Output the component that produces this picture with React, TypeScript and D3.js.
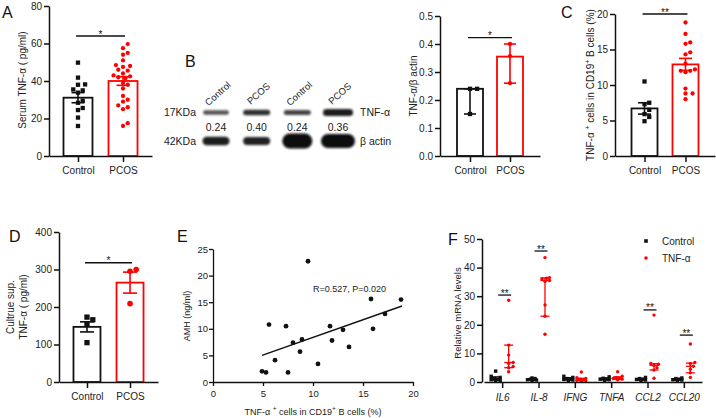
import React, { useEffect, useRef } from "react";
import * as d3 from "d3";

const FONT = "'Liberation Sans', Arial, Helvetica, sans-serif";
const RED = "#ff0000";
const BLACK = "#111111";

// ---------- Panel A ----------
const groupsAB = ["Control", "PCOS"];
const aControl = [49.8, 41.8, 38.2, 38.0, 35.5, 35, 33.8, 29.5, 28.4, 25.6, 24.5, 20.5, 16];
const aPCOS = [59.7, 57.5, 55, 54, 51, 48.5, 48, 47.5, 46, 45.5, 44, 43, 42.5, 42, 41.5, 39, 38, 36, 32, 30, 29, 27, 26, 25, 17.5, 16];
const aMean = [31.1, 40.0];
const aSem = [2.7, 2.3];
const aTicks = [0, 20, 40, 60, 80];

// ---------- Panel B (blot) ----------
const blotLanes = ["Control", "PCOS", "Control", "PCOS"];
const blotRatios = ["0.24", "0.40", "0.24", "0.36"];
const blotMarkers = ["17KDa", "42KDa"];
const blotProteins = ["TNF-α", "β actin"];

// ---------- Panel B (bar) ----------
const bControl = [0.24, 0.24, 0.15];
const bPCOS = [0.40, 0.357, 0.26];
const bMean = [0.24, 0.355];
const bLow = [0.15, 0.26];
const bHigh = [0.24, 0.40];
const bTicks = [0, 0.1, 0.2, 0.3, 0.4, 0.5];

// ---------- Panel C ----------
const cControl = [10.5, 7.5, 7.3, 6.5, 5.9, 5.5, 4.9];
const cPCOS = [18.8, 17.2, 16, 15.8, 14.6, 14.3, 13, 12.2, 12, 12, 11.8, 9.5, 8.8, 8.8, 8];
const cMean = [6.7, 12.9];
const cSem = [0.8, 0.85];
const cTicks = [0, 5, 10, 15, 20];

// ---------- Panel D ----------
const dControl = [173, 166, 154, 105];
const dPCOS = [300, 295.5, 209];
const dMean = [147, 265];
const dSem = [13.5, 28];
const dTicks = [0, 100, 200, 300, 400];

// ---------- Panel E ----------
const eX = [9.5, 15.8, 18.8, 5.6, 7.3, 11.7, 13.0, 16.0, 17.2, 8.0, 8.9, 11.9, 8.7, 13.6, 6.2, 10.5, 4.9, 5.3, 7.5];
const eY = [22.7, 15.6, 15.5, 10.8, 10.5, 10.5, 9.8, 10.0, 12.8, 7.4, 8.0, 7.8, 5.7, 6.6, 4.1, 3.4, 2.0, 1.8, 1.8];
const eSlope = 0.664;
const eIntercept = 1.745;
const eFitRange = [4.9, 18.9];
const eLabel = "R=0.527, P=0.020";
const eXTicks = [0, 5, 10, 15, 20];
const eYTicks = [0, 5, 10, 15, 20, 25];

// ---------- Panel F ----------
const fGenes = ["IL6", "IL-8", "IFNG", "TNFA", "CCL2", "CCL20"];
const fSeries = ["Control", "TNF-α"];
const fControl = [
  [3.8, 2.0, 1.6, 1.2, 1.0, 0.8, 0.6, 0.5],
  [1.4, 1.2, 1.0, 0.9, 0.8, 0.7, 0.6],
  [2.0, 1.6, 1.2, 1.0, 0.9, 0.7, 0.5],
  [1.8, 1.3, 1.1, 1.0, 0.8, 0.6],
  [1.6, 1.2, 1.0, 0.9, 0.7, 0.5],
  [1.4, 1.2, 1.0, 0.8, 0.7, 0.5],
];
const fTNF = [
  [28.6, 12.9, 9.4, 6.8, 6.5, 5.4, 5.0, 3.6],
  [43.5, 36.5, 36.3, 36, 35.5, 35.2, 26.9, 23, 16.7],
  [3.5, 1.5, 1.2, 1.0, 0.8, 0.6, 0.4, 0.3],
  [3.6, 2.0, 1.6, 1.4, 1.2, 1.0, 0.8],
  [23.4, 6.5, 6.2, 5.8, 5.0, 4.2, 1.3],
  [13.3, 6.8, 6.5, 5.5, 4.5, 3.2, 1.6],
];
// [q1, median, q3]
const fControlIQR = [
  [0.6, 1.1, 1.8], [0.7, 0.85, 1.1], [0.7, 1.0, 1.5], [0.7, 1.05, 1.3], [0.6, 0.9, 1.2], [0.6, 0.9, 1.1],
];
const fTNFIQR = [
  [5.0, 6.8, 12.9], [23, 35.5, 36.4], [0.5, 0.9, 1.3], [0.9, 1.3, 1.8], [4.2, 5.8, 6.4], [3.2, 5.5, 6.6],
];
const fSig: [string, number, string][] = [["IL6", 30.4, "**"], ["IL-8", 45.8, "**"], ["CCL2", 25.2, "**"], ["CCL20", 16.4, "**"]];
const fTicks = [0, 10, 20, 30, 40, 50];

// ---------- helpers ----------
function dodge(values: number[], y: (v: number) => number, r: number, step = r, maxOff = 40): number[] {
  const order = values.map((_, i) => i).sort((a, b) => values[a] - values[b]);
  const placed: { x: number; y: number }[] = [];
  const out = new Array(values.length).fill(0);
  for (const i of order) {
    const py = y(values[i]);
    const cands = [0];
    for (let k = 1; k * step <= maxOff; k++) cands.push(k * step, -k * step);
    let best = 0;
    let bestD = -1;
    let done = false;
    for (const c of cands) {
      const dmin = placed.length ? Math.min(...placed.map((p) => Math.hypot(p.x - c, p.y - py))) : 1e9;
      if (dmin >= 2 * r - 0.2) {
        best = c;
        done = true;
        break;
      }
      if (dmin > bestD) {
        bestD = dmin;
        best = c;
      }
    }
    void done;
    out[i] = best;
    placed.push({ x: best, y: py });
  }
  return out;
}

type AxisProps = {
  scale: any; orient: "left" | "bottom"; x?: number; y?: number; tickValues?: any[];
  fmt?: (d: any) => string; size?: number; pad?: number; fs?: number; italic?: boolean; sw?: number;
};
function Axis(p: AxisProps) {
  const ref = useRef<SVGGElement>(null);
  useEffect(() => {
    if (!ref.current) return;
    const ax: any = p.orient === "left" ? d3.axisLeft(p.scale) : d3.axisBottom(p.scale);
    ax.tickSizeOuter(0).tickSizeInner(p.size ?? 5).tickPadding(p.pad ?? 2);
    if (p.tickValues) ax.tickValues(p.tickValues);
    if (p.fmt) ax.tickFormat(p.fmt);
    const g = d3.select(ref.current);
    g.call(ax);
    g.attr("font-size", null).attr("font-family", null);
    g.select(".domain").attr("stroke", BLACK).attr("stroke-width", p.sw ?? 1.5);
    g.selectAll(".tick line").attr("stroke", BLACK).attr("stroke-width", p.sw ?? 1.5);
    g.selectAll(".tick text")
      .attr("fill", "#222")
      .attr("font-size", p.fs ?? 10)
      .attr("font-family", FONT)
      .attr("font-style", p.italic ? "italic" : null);
  });
  return <g ref={ref} transform={`translate(${p.x ?? 0},${p.y ?? 0})`} />;
}

function Marker({ shape, x, y, s, color }: { shape: string; x: number; y: number; s: number; color: string }) {
  if (shape === "square") return <rect x={x - s / 2} y={y - s / 2} width={s} height={s} fill={color} />;
  return <circle cx={x} cy={y} r={s / 2} fill={color} />;
}

type BarPanelProps = {
  xr: [number, number]; yr: [number, number]; yMax: number; ticks: number[]; fmt?: (d: any) => string;
  padding: number; pts: number[][]; means: number[]; lo: number[]; hi: number[];
  barW: number; capW: number; sigVal: number; sigText: string; ptS: number[];
  title: React.ReactNode; titleX: number; titleY: number; letter: string; lx: number; ly: number;
  titleLines?: string[];
};
function BarPanel(p: BarPanelProps) {
  const x = d3.scalePoint<string>().domain(groupsAB).range(p.xr).padding(p.padding);
  const y = d3.scaleLinear().domain([0, p.yMax]).range(p.yr);
  const colors = [BLACK, RED];
  const shapes = ["square", "circle"];
  const c0 = x(groupsAB[0])!;
  const c1 = x(groupsAB[1])!;
  const sy = y(p.sigVal);
  return (
    <g>
      <text x={p.lx} y={p.ly} fontSize={16} fontFamily={FONT} fill="#111">{p.letter}</text>
      {groupsAB.map((g, i) => {
        const cx = x(g)!;
        const top = y(p.means[i]);
        return (
          <rect key={"b" + g} x={cx - p.barW / 2} y={top} width={p.barW} height={y(0) - top}
            fill="white" stroke={colors[i]} strokeWidth={1.8} />
        );
      })}
      {groupsAB.map((g, i) => {
        const cx = x(g)!;
        const offs = dodge(p.pts[i], y, p.ptS[i] / 2 + 0.4, p.ptS[i] * 0.55);
        return p.pts[i].map((v, j) => (
          <Marker key={g + j} shape={shapes[i]} x={cx + offs[j]} y={y(v)} s={p.ptS[i]} color={colors[i]} />
        ));
      })}
      {groupsAB.map((g, i) => {
        const cx = x(g)!;
        const a = y(p.lo[i]);
        const b = y(p.hi[i]);
        return (
          <g key={"e" + g} stroke={colors[i]} strokeWidth={1.6}>
            <line x1={cx} x2={cx} y1={a} y2={b} />
            <line x1={cx - p.capW / 2} x2={cx + p.capW / 2} y1={a} y2={a} />
            <line x1={cx - p.capW / 2} x2={cx + p.capW / 2} y1={b} y2={b} />
          </g>
        );
      })}
      <Axis scale={y} orient="left" x={p.xr[0]} tickValues={p.ticks} fmt={p.fmt} size={5} pad={2} />
      <Axis scale={x} orient="bottom" y={p.yr[0]} size={6} pad={5} />
      <line x1={c0 - 2} x2={c1 + 2} y1={sy} y2={sy} stroke={BLACK} strokeWidth={1.3} />
      <text x={(c0 + c1) / 2} y={sy + 1.5} textAnchor="middle" fontSize={10} fontFamily={FONT} fill="#111">{p.sigText}</text>
      <text transform={`translate(${p.titleX},${p.titleY}) rotate(-90)`} textAnchor="middle" fontSize={10}
        fontFamily={FONT} fill="#222">
        {p.titleLines
          ? p.titleLines.map((t, k) => (
              <tspan key={k} x={0} dy={k === 0 ? 0 : 13}>{t}</tspan>
            ))
          : p.title}
      </text>
    </g>
  );
}

function Blot() {
  const lane = d3.scalePoint<number>().domain([0, 1, 2, 3]).range([216, 338]);
  const rowY = [112.5, 141];
  const tnfBands = [
    { w: 26, h: 4.5, c: "#555" }, { w: 27, h: 5.5, c: "#2e2e2e" }, { w: 27, h: 5, c: "#444" }, { w: 30, h: 7, c: "#1c1c1c" },
  ];
  const actinBands = [
    { w: 27, h: 8.5, c: "#1a1a1a" }, { w: 27, h: 8, c: "#242424" }, { w: 30, h: 15, c: "#0a0a0a" }, { w: 34, h: 14, c: "#0a0a0a" },
  ];
  const rows = [tnfBands, actinBands];
  return (
    <g fontFamily={FONT} fill="#222">
      <defs>
        <filter id="blotblur" x="-30%" y="-80%" width="160%" height="260%">
          <feGaussianBlur stdDeviation="1.2" />
        </filter>
      </defs>
      <text x={185} y={67} fontSize={16} fill="#111">B</text>
      {blotLanes.map((l, i) => (
        <text key={"l" + i} transform={`translate(${lane(i)! + 4},${96}) rotate(-42)`} textAnchor="middle"
          fontSize={9.5}>{l}</text>
      ))}
      {rows.map((row, r) => (
        <g key={"r" + r} filter="url(#blotblur)">
          {row.map((b, i) => (
            <rect key={i} x={lane(i)! - b.w / 2} y={rowY[r] - b.h / 2} width={b.w} height={b.h} rx={b.h / 2}
              ry={b.h / 2} fill={b.c} />
          ))}
        </g>
      ))}
      {blotRatios.map((t, i) => (
        <text key={"n" + i} x={lane(i)!} y={131} textAnchor="middle" fontSize={10.5}>{t}</text>
      ))}
      {blotMarkers.map((m, r) => (
        <text key={"m" + r} x={196} y={rowY[r] + 3.8} textAnchor="end" fontSize={10.5}>{m}</text>
      ))}
      {blotProteins.map((m, r) => (
        <text key={"p" + r} x={360} y={rowY[r] + 3.8} fontSize={10.5}>{m}</text>
      ))}
    </g>
  );
}

function PanelE() {
  const x = d3.scaleLinear().domain([0, 20]).range([213, 413]);
  const y = d3.scaleLinear().domain([0, 25]).range([382, 249]);
  const fit = d3.line<number>().x((d) => x(d)).y((d) => y(eSlope * d + eIntercept));
  return (
    <g fontFamily={FONT}>
      <text x={177} y={242} fontSize={16} fill="#111">E</text>
      {eX.map((v, i) => (
        <circle key={i} cx={x(v)} cy={y(eY[i])} r={2.4} fill={BLACK} />
      ))}
      <path d={fit(eFitRange) || ""} stroke={BLACK} strokeWidth={1.5} fill="none" />
      <Axis scale={y} orient="left" x={213} tickValues={eYTicks} size={4} pad={1} fs={9.5} sw={1.3} />
      <Axis scale={x} orient="bottom" y={382} tickValues={eXTicks} size={4} pad={4} fs={9.5} sw={1.3} />
      <text x={313} y={292} fontSize={9} fill="#222">{eLabel}</text>
      <text transform="translate(190,316) rotate(-90)" textAnchor="middle" fontSize={9} fill="#222">AMH (ng/ml)</text>
      <text x={313} y={415} textAnchor="middle" fontSize={9} fill="#222">
        TNF-α <tspan fontSize={6.5} dy={-4}>+</tspan><tspan dy={4}> cells in CD19</tspan>
        <tspan fontSize={6.5} dy={-4}>+</tspan><tspan dy={4}> B cells (%)</tspan>
      </text>
    </g>
  );
}

function PanelF() {
  const x = d3.scalePoint<string>().domain(fGenes).range([484, 702]).padding(0.5);
  const y = d3.scaleLinear().domain([0, 50]).range([382, 239]);
  const series = [
    { data: fControl, iqr: fControlIQR, color: BLACK, shape: "square", off: -6.5, s: 3.4 },
    { data: fTNF, iqr: fTNFIQR, color: RED, shape: "circle", off: 6.5, s: 3.4 },
  ];
  return (
    <g fontFamily={FONT}>
      <text x={448} y={245} fontSize={16} fill="#111">F</text>
      {series.map((s, si) =>
        fGenes.map((g, gi) => {
          const cx = x(g)! + s.off;
          const offs = dodge(s.data[gi], y, s.s / 2 + 0.1, 1.5, 4.5);
          const [q1, med, q3] = s.iqr[gi];
          return (
            <g key={si + g}>
              {s.data[gi].map((v, j) => (
                <Marker key={j} shape={s.shape} x={cx + offs[j]} y={y(v)} s={s.s} color={s.color} />
              ))}
              <g stroke={s.color} strokeWidth={1.3}>
                <line x1={cx} x2={cx} y1={y(q1)} y2={y(q3)} />
                {[q1, med, q3].map((q, k) => (
                  <line key={k} x1={cx - 4.5} x2={cx + 4.5} y1={y(q)} y2={y(q)} />
                ))}
              </g>
            </g>
          );
        })
      )}
      <Axis scale={y} orient="left" x={482} tickValues={fTicks} size={5} pad={2} fs={10} sw={1.5} />
      <Axis scale={x} orient="bottom" y={382} size={6} pad={6} fs={10} italic sw={1.5} />
      {fSig.map(([g, v, t]) => {
        const cx = x(g)! + 2;
        return (
          <g key={"s" + g}>
            <line x1={cx - 6} x2={cx + 7} y1={y(v)} y2={y(v)} stroke={BLACK} strokeWidth={1.3} />
            <text x={cx + 0.5} y={y(v) + 1.5} textAnchor="middle" fontSize={10} fill="#111">{t}</text>
          </g>
        );
      })}
      <text transform="translate(461,313) rotate(-90)" textAnchor="middle" fontSize={9.5} fill="#222">
        Relative mRNA levels
      </text>
      {fSeries.map((s, i) => (
        <g key={"lg" + s}>
          <Marker shape={i === 0 ? "square" : "circle"} x={646} y={241 + i * 17} s={3.6} color={i === 0 ? BLACK : RED} />
          <text x={662} y={245 + i * 17} fontSize={10} fill="#222">{s}</text>
        </g>
      ))}
    </g>
  );
}

export default function App() {
  return (
    <svg width={716} height={418} viewBox="0 0 716 418"
      style={{ position: "absolute", left: 0, top: 0, background: "white" }}>
      <rect width={716} height={418} fill="white" />
      <BarPanel xr={[49, 152]} yr={[156, 6]} yMax={80} ticks={aTicks} padding={0.644}
        pts={[aControl, aPCOS]} means={aMean} lo={aMean.map((m, i) => m - aSem[i])}
        hi={aMean.map((m, i) => m + aSem[i])} barW={29} capW={13} sigVal={64} sigText="*" ptS={[4.3, 4.3]}
        title="Serum TNF-α ( pg/ml)" titleX={26} titleY={80} letter="A" lx={2} ly={18} />
      <Blot />
      <BarPanel xr={[440, 540]} yr={[156, 16]} yMax={0.5} ticks={bTicks} fmt={d3.format(".1f")} padding={0.75}
        pts={[bControl, bPCOS]} means={bMean} lo={bLow} hi={bHigh} barW={26} capW={12} sigVal={0.4225}
        sigText="*" ptS={[4.3, 4.3]} title="TNF-α/β actin" titleX={417} titleY={86} letter="" lx={0} ly={0} />
      <BarPanel xr={[615, 715]} yr={[156, 14]} yMax={20} ticks={cTicks} padding={0.72}
        pts={[cControl, cPCOS]} means={cMean} lo={cMean.map((m, i) => m - cSem[i])}
        hi={cMean.map((m, i) => m + cSem[i])} barW={26} capW={13} sigVal={20} sigText="**" ptS={[4.3, 4.3]}
        title={
          <>
            TNF-α <tspan fontSize={7} dy={-4}>+</tspan><tspan dy={4}> cells in CD19</tspan>
            <tspan fontSize={7} dy={-4}>+</tspan><tspan dy={4}> B cells (%)</tspan>
          </>
        }
        titleX={594} titleY={85} letter="C" lx={561} ly={18} />
      <BarPanel xr={[59, 158]} yr={[382, 232]} yMax={400} ticks={dTicks} padding={0.65}
        pts={[dControl, dPCOS]} means={dMean} lo={dMean.map((m, i) => m - dSem[i])}
        hi={dMean.map((m, i) => m + dSem[i])} barW={27} capW={14} sigVal={318} sigText="*" ptS={[5.3, 5.6]}
        title="" titleLines={["Cultrue sup.", "TNF-α ( pg/ml)"]} titleX={14} titleY={307} letter="D" lx={9} ly={242} />
      <PanelE />
      <PanelF />
    </svg>
  );
}
